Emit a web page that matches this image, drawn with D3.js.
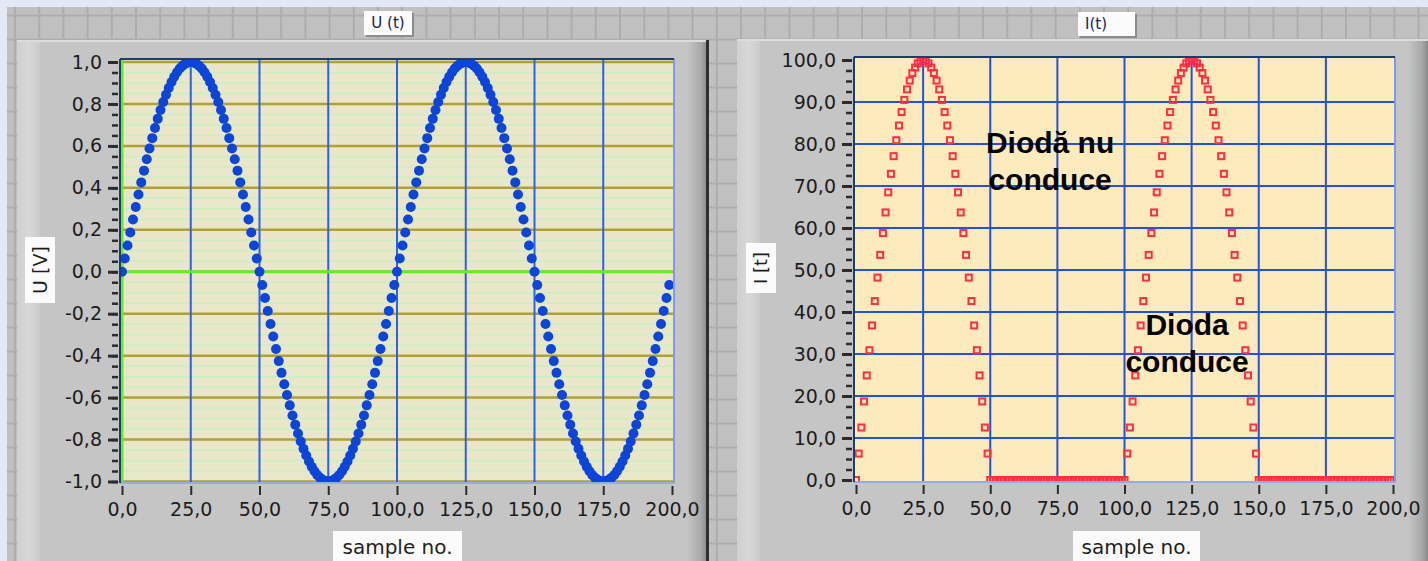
<!DOCTYPE html>
<html><head><meta charset="utf-8">
<script src="https://cdn.jsdelivr.net/npm/d3@7"></script>
<style>
body{margin:0;overflow:hidden;background:#e3e8f4}
</style>
</head><body>
<svg id="c" width="1428" height="561"></svg>
<script>
// ---------- DATA ----------
const sampleDomain = [0, 200];
const xTickValues = [0, 25, 50, 75, 100, 125, 150, 175, 200];
const uTickValues = [-1.0, -0.8, -0.6, -0.4, -0.2, 0.0, 0.2, 0.4, 0.6, 0.8, 1.0];
const iTickValues = [0, 10, 20, 30, 40, 50, 60, 70, 80, 90, 100];

// U(t) samples 0..199 [V]
const voltage = [
 0,0.063,0.125,0.187,0.249,0.309,0.368,0.426,0.482,0.536,0.588,0.637,0.685,0.729,0.771,0.809,0.844,0.876,0.905,0.930,0.951,0.969,0.982,0.992,0.998,1.000,0.998,0.992,0.982,0.969,0.951,0.930,0.905,0.876,0.844,0.809,0.771,0.729,0.685,0.637,0.588,0.536,0.482,0.426,0.368,0.309,0.249,0.187,0.125,0.063,
 0,-0.063,-0.125,-0.187,-0.249,-0.309,-0.368,-0.426,-0.482,-0.536,-0.588,-0.637,-0.685,-0.729,-0.771,-0.809,-0.844,-0.876,-0.905,-0.930,-0.951,-0.969,-0.982,-0.992,-0.998,-1.000,-0.998,-0.992,-0.982,-0.969,-0.951,-0.930,-0.905,-0.876,-0.844,-0.809,-0.771,-0.729,-0.685,-0.637,-0.588,-0.536,-0.482,-0.426,-0.368,-0.309,-0.249,-0.187,-0.125,-0.063,
 0,0.063,0.125,0.187,0.249,0.309,0.368,0.426,0.482,0.536,0.588,0.637,0.685,0.729,0.771,0.809,0.844,0.876,0.905,0.930,0.951,0.969,0.982,0.992,0.998,1.000,0.998,0.992,0.982,0.969,0.951,0.930,0.905,0.876,0.844,0.809,0.771,0.729,0.685,0.637,0.588,0.536,0.482,0.426,0.368,0.309,0.249,0.187,0.125,0.063,
 0,-0.063,-0.125,-0.187,-0.249,-0.309,-0.368,-0.426,-0.482,-0.536,-0.588,-0.637,-0.685,-0.729,-0.771,-0.809,-0.844,-0.876,-0.905,-0.930,-0.951,-0.969,-0.982,-0.992,-0.998,-1.000,-0.998,-0.992,-0.982,-0.969,-0.951,-0.930,-0.905,-0.876,-0.844,-0.809,-0.771,-0.729,-0.685,-0.637,-0.588,-0.536,-0.482,-0.426,-0.368,-0.309,-0.249,-0.187,-0.125,-0.063
];

// I(t) samples 0..199
const current = [
 0,6.3,12.5,18.7,24.9,30.9,36.8,42.6,48.2,53.6,58.8,63.7,68.5,72.9,77.1,80.9,84.4,87.6,90.5,93.0,95.1,96.9,98.2,99.2,99.8,100.0,99.8,99.2,98.2,96.9,95.1,93.0,90.5,87.6,84.4,80.9,77.1,72.9,68.5,63.7,58.8,53.6,48.2,42.6,36.8,30.9,24.9,18.7,12.5,6.3,
 0,0,0,0,0,0,0,0,0,0,0,0,0,0,0,0,0,0,0,0,0,0,0,0,0,0,0,0,0,0,0,0,0,0,0,0,0,0,0,0,0,0,0,0,0,0,0,0,0,0,
 0,6.3,12.5,18.7,24.9,30.9,36.8,42.6,48.2,53.6,58.8,63.7,68.5,72.9,77.1,80.9,84.4,87.6,90.5,93.0,95.1,96.9,98.2,99.2,99.8,100.0,99.8,99.2,98.2,96.9,95.1,93.0,90.5,87.6,84.4,80.9,77.1,72.9,68.5,63.7,58.8,53.6,48.2,42.6,36.8,30.9,24.9,18.7,12.5,6.3,
 0,0,0,0,0,0,0,0,0,0,0,0,0,0,0,0,0,0,0,0,0,0,0,0,0,0,0,0,0,0,0,0,0,0,0,0,0,0,0,0,0,0,0,0,0,0,0,0,0,0
];

// zero reference plot (green) on U(t)
const zeroRefX = [0, 200];
const zeroRefY = [0, 0];

const annotations = [
  {lines: ["Diodă nu", "conduce"], x: 72.3, y: 77.9},
  {lines: ["Dioda", "conduce"], x: 123.3, y: 34.5}
];

// ---------- DRAW ----------
const svg = d3.select("#c");
const W = 1428, H = 561;
const FONT = "'DejaVu Sans', sans-serif";
const fmt = v => (Math.abs(v) < 1e-9 ? 0 : v).toFixed(1).replace(".", ",");

const defs = svg.append("defs");
function grad(id, stops){
  const g = defs.append("linearGradient").attr("id", id).attr("x1",0).attr("x2",1).attr("y1",0).attr("y2",0);
  stops.forEach(s => g.append("stop").attr("offset", s[0]).attr("stop-color", s[1]));
}
grad("rightShade", [[0,"#c6c6c6"],[0.7,"#a8a8a8"],[1,"#8a8a8a"]]);
grad("leftStrip", [[0,"#cfcfcf"],[0.5,"#d8d8d8"],[1,"#cbcbcb"]]);

// background
svg.append("rect").attr("width", W).attr("height", H).attr("fill", "#e3e8f4");
svg.append("rect").attr("x", 7).attr("y", 7).attr("width", W-7).attr("height", H-7).attr("fill", "#c0c0c0");
const gridBg = svg.append("g").attr("stroke", "#adadad").attr("stroke-width", 2);
d3.range(15, W, 24.2).forEach(x => gridBg.append("line").attr("x1", x).attr("x2", x).attr("y1", 7).attr("y2", H));
d3.range(15.5, H, 24).forEach(y => gridBg.append("line").attr("x1", 7).attr("x2", W).attr("y1", y).attr("y2", y));

// panels
function panel(x0, x1, y0){
  const g = svg.append("g");
  g.append("rect").attr("x", x0).attr("y", y0).attr("width", x1-x0).attr("height", H-y0).attr("fill", "#c5c5c5");
  g.append("rect").attr("x", x0).attr("y", y0).attr("width", 23).attr("height", H-y0).attr("fill", "url(#leftStrip)");
  g.append("rect").attr("x", x1-20).attr("y", y0).attr("width", 20).attr("height", H-y0).attr("fill", "url(#rightShade)");
  g.append("line").attr("x1", x0).attr("x2", x1).attr("y1", y0+1).attr("y2", y0+1).attr("stroke", "#dcdcdc").attr("stroke-width", 2);
  return g;
}
panel(17, 707, 40);
svg.append("rect").attr("x", 706).attr("y", 40).attr("width", 3).attr("height", H-40).attr("fill", "#2e2e2e");
panel(737, 1428, 39);

// label box helper
function labelBox(x, y, w, h, txt, opts){
  const g = svg.append("g");
  if (opts.shadow) g.append("rect").attr("x", x+2).attr("y", y+2).attr("width", w).attr("height", h).attr("fill", "#8c8c8c");
  g.append("rect").attr("x", x).attr("y", y).attr("width", w).attr("height", h).attr("fill", "#fbfbfb");
  const t = g.append("text").text(txt).attr("fill", opts.color || "#1e1e1e")
    .style("font-family", FONT).style("font-size", opts.size + "px");
  if (opts.rotate){
    t.attr("transform", `translate(${x+w/2+opts.size*0.36},${y+h/2}) rotate(-90)`).attr("text-anchor", "middle");
  } else {
    t.attr("x", opts.tx !== undefined ? opts.tx : x+w/2).attr("y", y+h/2+opts.size*0.36)
     .attr("text-anchor", opts.anchor || "middle");
  }
}

// chart builder
function chart(cfg){
  const {x, y, frame} = cfg;
  const g = svg.append("g");
  g.append("rect").attr("x", frame[0]).attr("y", frame[1]).attr("width", frame[2]-frame[0]).attr("height", frame[3]-frame[1]).attr("fill", cfg.bg);
  const clip = "clip" + cfg.id;
  defs.append("clipPath").attr("id", clip).append("rect")
    .attr("x", frame[0]).attr("y", frame[1]).attr("width", frame[2]-frame[0]).attr("height", frame[3]-frame[1]);
  const inner = g.append("g").attr("clip-path", `url(#${clip})`);
  cfg.drawGrid(inner);
  cfg.drawData(inner);
  // frame borders
  g.append("line").attr("x1", frame[0]).attr("x2", frame[2]).attr("y1", frame[3]).attr("y2", frame[3]).attr("stroke", "#94ace8").attr("stroke-width", 2);
  g.append("line").attr("x1", frame[2]).attr("x2", frame[2]).attr("y1", frame[1]).attr("y2", frame[3]).attr("stroke", "#7e9ce6").attr("stroke-width", 2);
  g.append("line").attr("x1", frame[0]).attr("x2", frame[2]).attr("y1", frame[1]).attr("y2", frame[1]).attr("stroke", "#1b3c6e").attr("stroke-width", 2);
  g.append("line").attr("x1", frame[0]).attr("x2", frame[0]).attr("y1", frame[1]).attr("y2", frame[3]).attr("stroke", "#1b3c6e").attr("stroke-width", 2);

  // y axis
  const ax = frame[0] - 2;
  const minor = g.append("g").attr("transform", `translate(${ax},0)`)
    .call(d3.axisLeft(y).tickValues(cfg.yMinor).tickSize(6).tickFormat(""));
  minor.select(".domain").remove();
  minor.selectAll("line").attr("stroke", "#2b2b2b").attr("stroke-width", 2.5);
  const major = g.append("g").attr("transform", `translate(${ax},0)`)
    .call(d3.axisLeft(y).tickValues(cfg.yTicks).tickSize(10).tickPadding(6).tickFormat(fmt));
  major.select(".domain").remove();
  major.selectAll("line").attr("stroke", "#2b2b2b").attr("stroke-width", 3);
  major.selectAll("text").style("font-size", "19px").attr("fill", "#1c1c1c").style("font-family", FONT);

  // x axis
  const xa = g.append("g").attr("transform", `translate(0,${frame[3]+3})`)
    .call(d3.axisBottom(x).tickValues(xTickValues).tickSize(9).tickPadding(8).tickFormat(fmt));
  xa.select(".domain").remove();
  xa.selectAll("line").attr("stroke", "#2b2b2b").attr("stroke-width", 2);
  xa.selectAll("text").style("font-size", "19px").attr("fill", "#1c1c1c").style("font-family", FONT);
  return g;
}

// ----- Left chart: U(t) -----
const xL = d3.scaleLinear().domain(sampleDomain).range([122, 672]);
const yL = d3.scaleLinear().domain([-1, 1]).range([481.5, 62]);
chart({
  id: "L", x: xL, y: yL, frame: [120, 59, 674, 483], bg: "#eae6c9",
  yTicks: uTickValues, yMinor: d3.range(-1, 1.0001, 0.05),
  drawGrid: g => {
    d3.range(-1, 1.0001, 0.05).forEach(v => g.append("line").attr("x1", 120).attr("x2", 674)
      .attr("y1", yL(v)).attr("y2", yL(v)).attr("stroke", "#c9f0bf").attr("stroke-width", 1.5));
    uTickValues.forEach(v => g.append("line").attr("x1", 120).attr("x2", 674)
      .attr("y1", yL(v)).attr("y2", yL(v)).attr("stroke", "#ada232").attr("stroke-width", 2.5));
    xTickValues.slice(1, -1).forEach(v => g.append("line").attr("y1", 59).attr("y2", 483)
      .attr("x1", xL(v)).attr("x2", xL(v)).attr("stroke", "#2c60e6").attr("stroke-width", 2));
  },
  drawData: g => {
    g.append("line").attr("x1", xL(0)).attr("x2", xL(0)).attr("y1", 59).attr("y2", 483)
      .attr("stroke", "#5cf21a").attr("stroke-width", 3);
    g.append("path").datum(zeroRefX.map((v, i) => [v, zeroRefY[i]]))
      .attr("d", d3.line().x(d => xL(d[0])).y(d => yL(d[1])))
      .attr("stroke", "#5cf21a").attr("stroke-width", 3).attr("fill", "none");
    g.append("circle").attr("cx", xL(0)).attr("cy", yL(0)).attr("r", 3.5)
      .attr("fill", "none").attr("stroke", "#38c010").attr("stroke-width", 1.5);
    g.selectAll("circle.pt").data(voltage).join("circle").attr("class", "pt")
      .attr("cx", (d, i) => xL(i)).attr("cy", d => yL(d)).attr("r", 5).attr("fill", "#0b45dc");
  }
});

// ----- Right chart: I(t) -----
const xR = d3.scaleLinear().domain(sampleDomain).range([856, 1393]);
const yR = d3.scaleLinear().domain([0, 100]).range([480, 60]);
chart({
  id: "R", x: xR, y: yR, frame: [854, 57, 1395, 482], bg: "#feebbd",
  yTicks: iTickValues, yMinor: d3.range(0, 100.001, 2.5),
  drawGrid: g => {
    iTickValues.slice(1, -1).forEach(v => g.append("line").attr("x1", 854).attr("x2", 1395)
      .attr("y1", yR(v)).attr("y2", yR(v)).attr("stroke", "#2152df").attr("stroke-width", 2));
    xTickValues.slice(1, -1).forEach(v => g.append("line").attr("y1", 57).attr("y2", 482)
      .attr("x1", xR(v)).attr("x2", xR(v)).attr("stroke", "#2152df").attr("stroke-width", 2));
  },
  drawData: g => {
    const s = 6;
    g.selectAll("rect.pt").data(current).join("rect").attr("class", "pt")
      .attr("x", (d, i) => xR(i) - s/2).attr("y", d => yR(d) - s/2)
      .attr("width", s).attr("height", s)
      .attr("fill", "none").attr("stroke", "#ff2e40").attr("stroke-width", 2);
  }
});

// annotations
annotations.forEach(a => {
  const t = svg.append("text").attr("text-anchor", "middle")
    .style("font-family", "'Liberation Sans', Arial, sans-serif").style("font-weight", "bold")
    .style("font-size", "30px").attr("fill", "#000");
  a.lines.forEach((ln, k) => t.append("tspan").attr("x", xR(a.x)).attr("y", yR(a.y) + k * 37).text(ln));
});

// axis name boxes and titles
labelBox(25, 237, 30, 66, "U [V]", {rotate: true, size: 19});
labelBox(746, 243, 30, 50, "I [t]", {rotate: true, size: 18});
labelBox(333, 531, 129, 32, "sample no.", {size: 20});
labelBox(1073, 531, 127, 32, "sample no.", {size: 20});
labelBox(364, 11, 48, 24, "U (t)", {size: 15, shadow: true, color: "#12215a"});
labelBox(1078, 12, 57, 24, "I(t)", {size: 15, shadow: true, color: "#12215a", anchor: "start", tx: 1085});
</script>
</body></html>
